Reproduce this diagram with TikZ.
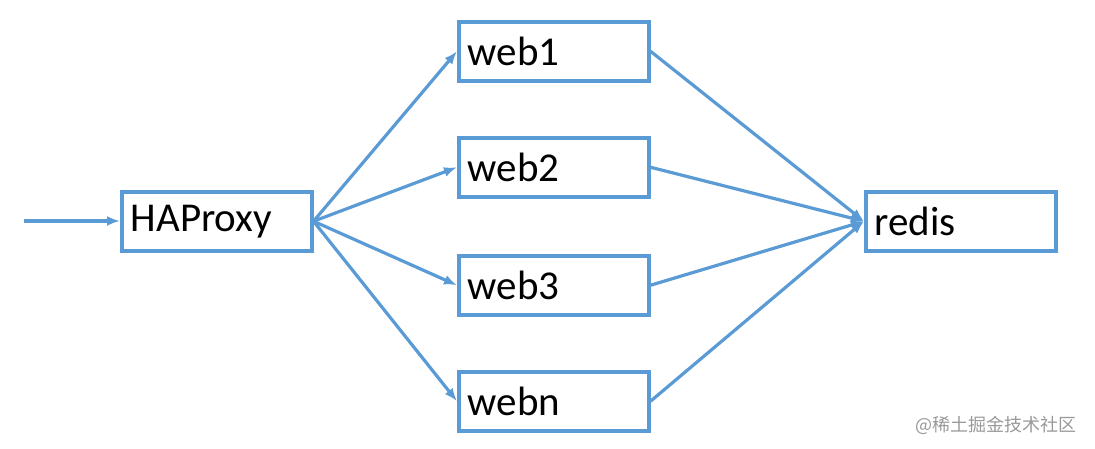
\documentclass[tikz,border=0pt]{standalone}
\usepackage{fontspec}
\setmainfont{Carlito}
\newfontfamily\cjk{Noto Sans CJK SC}
\usetikzlibrary{arrows.meta}
\definecolor{lineblue}{RGB}{91,155,213}
\begin{document}
\begin{tikzpicture}[x=1pt,y=-1pt,
  box/.style={draw=lineblue, line width=3.5pt, fill=white, minimum width=190pt, minimum height=59pt,
    anchor=north west, inner sep=0pt, font=\fontsize{41}{43}\selectfont,
    text width=172pt, align=left},
  conn/.style={draw=lineblue, line width=3.2pt, -{Latex[length=13pt,width=10pt]}}]
\useasboundingbox (0,0) rectangle (1095,448);
\node[box] (ha) at (120,190) {HAProxy};
\node[box] (w1) at (457,20) {web1};
\node[box] (w2) at (457,136) {web2};
\node[box] (w3) at (457,254) {web3};
\node[box] (wn) at (457,370) {webn};
\node[box] (rd) at (864,190) {redis};
\coordinate (in) at (24,221);
\draw[conn] (in) -- (in -| ha.west);
\foreach \w in {w1,w2,w3,wn}{
  \draw[conn] (ha.east) -- (\w.west);
  \draw[conn] (\w.east) -- (rd.west);
}
\node[anchor=east, text=black!40, font=\cjk\fontsize{18}{20}\selectfont] (wm) at (1080,425) {@稀土掘金技术社区};
\end{tikzpicture}
\end{document}
